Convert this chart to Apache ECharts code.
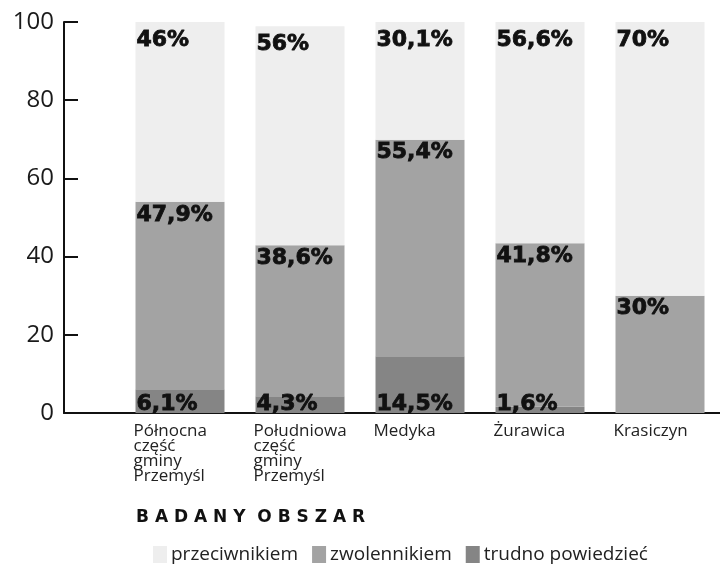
<!DOCTYPE html>
<html>
<head>
<meta charset="utf-8">
<script src="https://cdn.jsdelivr.net/npm/echarts@6/dist/echarts.min.js"></script>
<style>
  html, body { margin: 0; padding: 0; background: #fff; }
  #chart { width: 720px; height: 567px; }
</style>
</head>
<body>
<div id="chart"></div>
<script>
// obszary badania
const categories = [
  "Północna\nczęść\ngminy\nPrzemyśl",
  "Południowa\nczęść\ngminy\nPrzemyśl",
  "Medyka",
  "Żurawica",
  "Krasiczyn"
];
const trudno = [6.1, 4.3, 14.5, 1.6, 0];
const zwolennik = [47.9, 38.6, 55.4, 41.8, 30];
const przeciwnik = [46, 56, 30.1, 56.6, 70];
const yTicks = [0, 20, 40, 60, 80, 100];

const labelFont = {
  fontFamily: "DejaVu Sans",
  fontWeight: "bold",
  fontSize: 22,
  color: "#111",
  textBorderColor: "#111",
  textBorderWidth: 0.8
};

const pct = p => (p.value ? String(p.value).replace(".", ",") + "%" : "");

const myChart = echarts.init(document.getElementById("chart"));

myChart.setOption({
  backgroundColor: "#fff",
  animation: false,
  title: {
    text: "B A D A N Y  O B S Z A R",
    left: 131,
    top: 504,
    textStyle: {
      fontFamily: "DejaVu Sans",
      fontWeight: "bold",
      fontSize: 17,
      color: "#111"
    }
  },
  legend: {
    left: 148,
    top: 540,
    icon: "rect",
    itemWidth: 14,
    itemHeight: 17,
    itemGap: 14,
    data: ["przeciwnikiem", "zwolennikiem", "trudno powiedzieć"],
    textStyle: { fontFamily: "Open Sans", fontSize: 19, color: "#222", padding: [0, 0, 0, -1] }
  },
  grid: [
    // osie (pełna szerokość)
    { left: 64, right: 0, top: 22, bottom: 154 },
    // słupki
    { left: 120, right: -18, top: 22, bottom: 154 }
  ],
  xAxis: [
    {
      gridIndex: 0,
      type: "value",
      min: 0,
      max: 1,
      axisLine: { show: true, lineStyle: { color: "#111", width: 2 } },
      axisTick: { show: false },
      axisLabel: { show: false },
      splitLine: { show: false }
    },
    {
      gridIndex: 1,
      type: "category",
      data: categories,
      axisLine: { show: false },
      axisTick: { show: false },
      axisLabel: {
        margin: 11,
        interval: 0,
        align: "center",
        verticalAlign: "top",
        formatter: v => v.split("\n").map(s => "{a|" + s + "}").join("\n"),
        rich: {
          a: {
            width: 93,
            align: "left",
            fontFamily: "Open Sans",
            fontSize: 17,
            lineHeight: 15,
            color: "#222"
          }
        }
      }
    }
  ],
  yAxis: [
    {
      gridIndex: 0,
      type: "value",
      min: 0,
      max: 100,
      interval: 20,
      axisLine: { show: true, lineStyle: { color: "#111", width: 2 } },
      axisTick: { show: true, inside: true, length: 14, lineStyle: { color: "#111", width: 2 } },
      axisLabel: {
        margin: 10,
        fontFamily: "Open Sans",
        fontSize: 24,
        color: "#1a1a1a",
        formatter: v => (yTicks.includes(v) ? String(v) : "")
      },
      splitLine: { show: false }
    },
    {
      gridIndex: 1,
      type: "value",
      min: 0,
      max: 100,
      show: false
    }
  ],
  series: [
    {
      name: "trudno powiedzieć",
      type: "bar",
      stack: "all",
      xAxisIndex: 1,
      yAxisIndex: 1,
      barWidth: 89,
      data: trudno,
      itemStyle: { color: "#858585" },
      label: { show: true, position: "insideBottomLeft", distance: 1, offset: [0, 3], formatter: pct, ...labelFont }
    },
    {
      name: "zwolennikiem",
      type: "bar",
      stack: "all",
      xAxisIndex: 1,
      yAxisIndex: 1,
      barWidth: 89,
      data: zwolennik,
      itemStyle: { color: "#a3a3a3" },
      label: { show: true, position: "insideTopLeft", distance: 1, offset: [0, 1], formatter: pct, ...labelFont }
    },
    {
      name: "przeciwnikiem",
      type: "bar",
      stack: "all",
      xAxisIndex: 1,
      yAxisIndex: 1,
      barWidth: 89,
      data: przeciwnik,
      itemStyle: { color: "#eeeeee" },
      label: { show: true, position: "insideTopLeft", distance: 1, offset: [0, 6], formatter: pct, ...labelFont }
    }
  ]
});
</script>
</body>
</html>
